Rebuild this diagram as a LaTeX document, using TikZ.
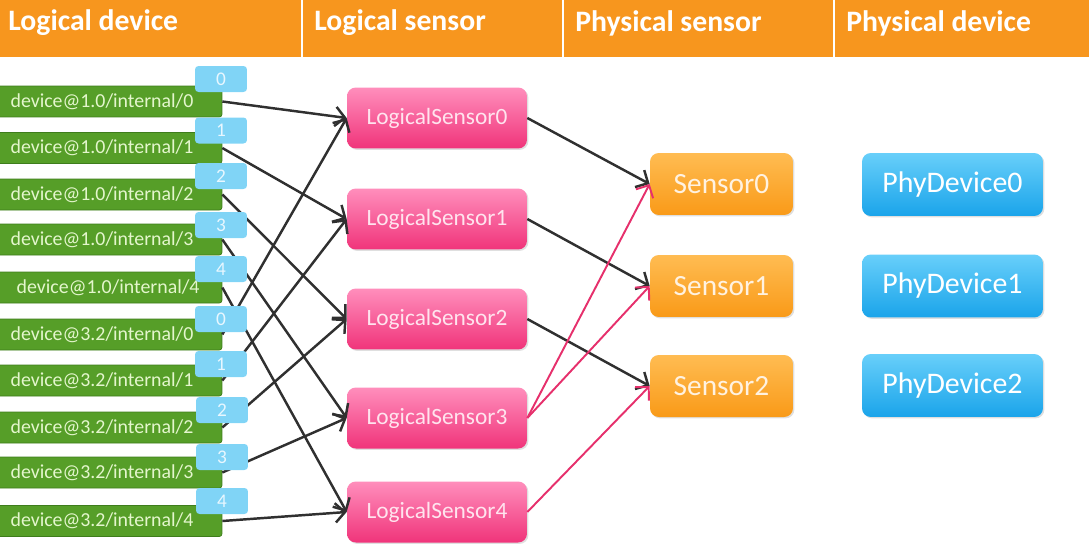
\documentclass[tikz,border=0pt]{standalone}
\usepackage{fontspec}
\setmainfont{Carlito}
\usetikzlibrary{arrows.meta,shadows}

\definecolor{hdorange}{RGB}{247,150,30}
\definecolor{devgreen}{RGB}{86,158,40}
\definecolor{devgreendark}{RGB}{62,125,28}
\definecolor{devtext}{RGB}{228,246,205}
\definecolor{tagblue}{RGB}{128,212,246}
\definecolor{tagtext}{RGB}{232,247,255}
\definecolor{lstop}{RGB}{255,142,188}
\definecolor{lsbot}{RGB}{240,52,122}
\definecolor{lstext}{RGB}{255,228,238}
\definecolor{sntop}{RGB}{255,188,82}
\definecolor{snbot}{RGB}{249,154,24}
\definecolor{sntext}{RGB}{255,242,225}
\definecolor{pdtop}{RGB}{104,207,250}
\definecolor{pdbot}{RGB}{26,164,234}
\definecolor{wiregray}{RGB}{48,48,48}
\definecolor{wirepink}{RGB}{230,48,108}

\begin{document}
\begin{tikzpicture}[x=0.02cm,y=-0.02cm,
  head/.style={anchor=west,inner sep=0pt,text=white,font=\fontsize{16.9}{19}\selectfont\bfseries},
  devbox/.style={draw=devgreendark,fill=devgreen,rounded corners=1.5pt,minimum width=4.8cm,minimum height=0.62cm,inner sep=0pt,text=devtext,font=\fontsize{11.3}{13}\selectfont},
  tagbox/.style={fill=tagblue,rounded corners=2pt,minimum width=1.04cm,minimum height=0.52cm,inner sep=0pt,text=tagtext,font=\fontsize{11}{13}\selectfont},
  lsbox/.style={top color=lstop,bottom color=lsbot,rounded corners=5pt,minimum width=3.6cm,minimum height=1.22cm,inner sep=0pt,text=lstext,font=\fontsize{13.3}{15}\selectfont,drop shadow={shadow xshift=0.8pt,shadow yshift=-0.8pt,opacity=0.25}},
  snbox/.style={top color=sntop,bottom color=snbot,rounded corners=5pt,minimum width=2.86cm,minimum height=1.24cm,inner sep=0pt,text=sntext,font=\fontsize{16.7}{19}\selectfont,drop shadow={shadow xshift=0.8pt,shadow yshift=-0.8pt,opacity=0.25}},
  pdbox/.style={top color=pdtop,bottom color=pdbot,rounded corners=5pt,minimum width=3.62cm,minimum height=1.26cm,inner sep=0pt,text=white,font=\fontsize{17}{19}\selectfont,drop shadow={shadow xshift=0.8pt,shadow yshift=-0.8pt,opacity=0.25}},
  wire/.style={wiregray,line width=1.4pt,-{Straight Barb[length=5.5pt,width=11pt]}},
  pinkwire/.style={wirepink,line width=1.1pt,-{Straight Barb[length=5.5pt,width=11pt]}}]

\useasboundingbox (0,0) rectangle (1089,548);

% header
\fill[hdorange] (0,0) rectangle (1089,57);
\draw[white,line width=0.04cm] (302,0) -- (302,57);
\draw[white,line width=0.04cm] (563,0) -- (563,57);
\draw[white,line width=0.04cm] (834,0) -- (834,57);

\draw (8,23) node(HLD)[head]{Logical device};
\draw (314,23) node(HLS)[head]{Logical sensor};
\draw (575,23) node(HPS)[head]{Physical sensor};
\draw (846,23) node(HPD)[head]{Physical device};

% logical devices
\draw (102,101.5) node(DA0)[devbox]{device@1.0/internal/0};
\draw (102,148) node(DA1)[devbox]{device@1.0/internal/1};
\draw (102,194.5) node(DA2)[devbox]{device@1.0/internal/2};
\draw (102,239.5) node(DA3)[devbox]{device@1.0/internal/3};
\draw (102,287.5) node(DA4)[devbox]{\hspace{7pt}device@1.0/internal/4};
\draw (102,334.5) node(DB0)[devbox]{device@3.2/internal/0};
\draw (102,380.5) node(DB1)[devbox]{device@3.2/internal/1};
\draw (102,427.5) node(DB2)[devbox]{device@3.2/internal/2};
\draw (102,472.5) node(DB3)[devbox]{device@3.2/internal/3};
\draw (102,521) node(DB4)[devbox]{device@3.2/internal/4};

% logical sensors
\draw (437,118) node(LS0)[lsbox]{LogicalSensor0};
\draw (437,219) node(LS1)[lsbox]{LogicalSensor1};
\draw (437,319) node(LS2)[lsbox]{LogicalSensor2};
\draw (437,418) node(LS3)[lsbox]{LogicalSensor3};
\draw (437,512) node(LS4)[lsbox]{LogicalSensor4};

% physical sensors
\draw (721.5,184) node(S0)[snbox]{Sensor0};
\draw (721.5,286) node(S1)[snbox]{Sensor1};
\draw (721.5,386) node(S2)[snbox]{Sensor2};

% physical devices
\draw (952.5,184.5) node(PD0)[pdbox]{PhyDevice0};
\draw (952.5,286) node(PD1)[pdbox]{PhyDevice1};
\draw (952.5,385.5) node(PD2)[pdbox]{PhyDevice2};

\draw[wire] (DA0.east) -- (LS0.west);
\draw[wire] (DA1.east) -- (LS1.west);
\draw[wire] (DA2.east) -- (LS2.west);
\draw[wire] (DA3.east) -- (LS3.west);
\draw[wire] (DA4.east) -- (LS4.west);
\draw[wire] (DB0.east) -- (LS0.west);
\draw[wire] (DB1.east) -- (LS1.west);
\draw[wire] (DB2.east) -- (LS2.west);
\draw[wire] (DB3.east) -- (LS3.west);
\draw[wire] (DB4.east) -- (LS4.west);

\draw[wire] (LS0.east) -- (S0.west);
\draw[wire] (LS1.east) -- (S1.west);
\draw[wire] (LS2.east) -- (S2.west);
\draw[pinkwire] (LS3.east) -- (S0.west);
\draw[pinkwire] (LS3.east) -- (S1.west);
\draw[pinkwire] (LS4.east) -- (S2.west);

% index tags, on top of the wires
\draw (221,79) node(TA0)[tagbox]{0};
\draw (221,130.5) node(TA1)[tagbox]{1};
\draw (221,176) node(TA2)[tagbox]{2};
\draw (221,225) node(TA3)[tagbox]{3};
\draw (221,269) node(TA4)[tagbox]{4};
\draw (221,319) node(TB0)[tagbox]{0};
\draw (221,364) node(TB1)[tagbox]{1};
\draw (222,410) node(TB2)[tagbox]{2};
\draw (222,457) node(TB3)[tagbox]{3};
\draw (222,501) node(TB4)[tagbox]{4};

\end{tikzpicture}
\end{document}
